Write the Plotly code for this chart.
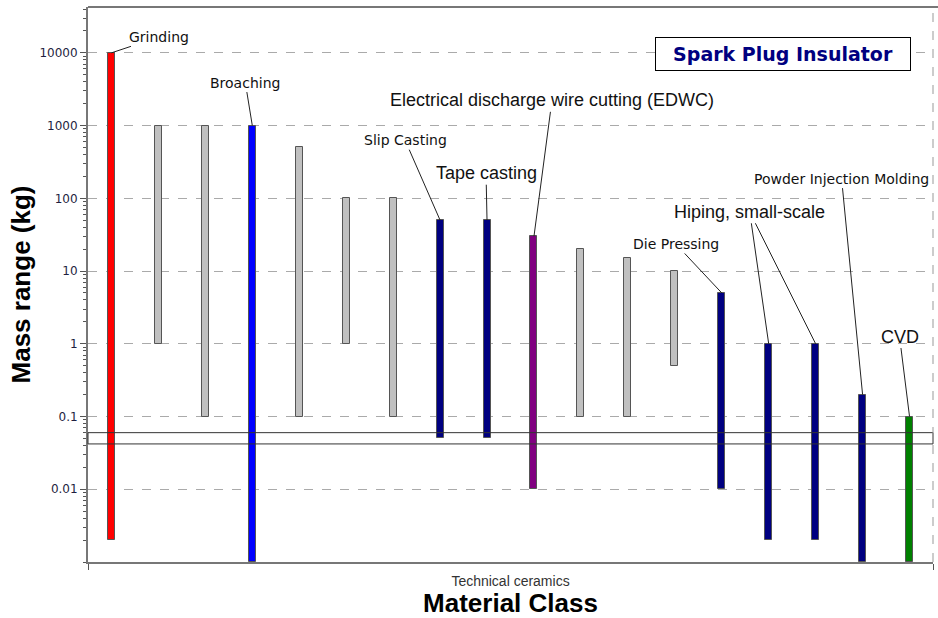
import math
import plotly.graph_objects as go

# ---- data ----
processes = ["Grinding", "Other 1", "Other 2", "Broaching", "Other 3", "Other 4", "Other 5",
             "Slip Casting", "Tape casting", "EDWC", "Other 6", "Other 7", "Other 8",
             "Die Pressing", "Hiping, small-scale A", "Hiping, small-scale B",
             "Powder Injection Molding", "CVD"]
mass_max = [10000, 1000, 1000, 1000, 500, 100, 100, 50, 50, 30, 20, 15, 10, 5, 1, 1, 0.2, 0.1]
mass_min = [0.002, 1, 0.1, 0.001, 0.1, 1, 0.1, 0.05, 0.05, 0.01, 0.1, 0.1, 0.5, 0.01, 0.002, 0.002, 0.001, 0.001]
bar_colors = ["#ff0000", "#c0c0c0", "#c0c0c0", "#0000ff", "#c0c0c0", "#c0c0c0", "#c0c0c0",
              "#000080", "#000080", "#800080", "#c0c0c0", "#c0c0c0", "#c0c0c0",
              "#000080", "#000080", "#000080", "#000080", "#008000"]
category_label = "Technical ceramics"
y_tick_vals = [0.01, 0.1, 1, 10, 100, 1000, 10000]
y_tick_text = ["0.01", "0.1", "1", "10", "100", "1000", "10000"]
target_band = [0.042, 0.06]

x_idx = list(range(len(processes)))
heights = [t - b for t, b in zip(mass_max, mass_min)]

fig = go.Figure()
fig.add_trace(go.Bar(
    x=x_idx, y=heights, base=mass_min, width=0.15,
    marker=dict(color=bar_colors, line=dict(color="#555555", width=1)),
    hoverinfo="skip", showlegend=False,
))

# target band (selection box)
fig.add_shape(type="rect", xref="paper", yref="y", x0=0, x1=1,
              y0=target_band[0], y1=target_band[1],
              line=dict(color="#333333", width=1), fillcolor="rgba(0,0,0,0)", layer="above")
# right dashed border & top border
fig.add_shape(type="line", xref="paper", yref="paper", x0=1, x1=1, y0=0, y1=1,
              line=dict(color="#999999", width=1, dash="dash"))
fig.add_shape(type="line", xref="paper", yref="paper", x0=0, x1=1.007, y0=1, y1=1,
              line=dict(color="#777777", width=2))

tahoma = "DejaVu Sans"
arial = "Liberation Sans, Arial"

def label(i, text, ax, ay, fam, size, color="#111111"):
    fig.add_annotation(x=x_idx[i], y=math.log10(mass_max[i]), text=text, showarrow=True,
                       arrowhead=0, arrowwidth=1, arrowcolor="#222222",
                       ax=ax, ay=ay, font=dict(family=fam, size=size, color=color))

label(0, "Grinding", 48, -16, tahoma, 14)
label(3, "Broaching", -7, -43, tahoma, 14)
label(7, "Slip Casting", -35, -80, tahoma, 14)
label(8, "Tape casting", -1, -47, arial, 18)
label(9, "Electrical discharge wire cutting (EDWC)", 18, -136, arial, 18)
label(13, "Die Pressing", -46, -49, tahoma, 14)
label(14, "Hiping, small-scale", -19, -132, arial, 18)
label(15, "Hiping, small-scale", -66, -132, arial, 18, color="rgba(0,0,0,0)")
label(16, "Powder Injection Molding", -21, -216, tahoma, 14)
label(17, "CVD", -10, -80, arial, 18)

fig.add_annotation(xref="paper", yref="paper", x=0.8225, y=0.915,
                   xanchor="center", yanchor="middle",
                   text="<b>Spark Plug Insulator</b>", showarrow=False,
                   font=dict(family="DejaVu Sans", size=19, color="#000080"),
                   bordercolor="#000000", borderwidth=1, borderpad=4,
                   bgcolor="#ffffff", width=246, height=24)

fig.update_layout(
    width=938, height=618,
    margin=dict(l=88, r=5, t=7, b=56),
    paper_bgcolor="#ffffff", plot_bgcolor="#ffffff",
    bargap=0,
    xaxis=dict(
        range=[-0.5, 17.5], showgrid=False, zeroline=False, automargin=False,
        showline=True, linecolor="#777777", linewidth=2,
        tickvals=[(len(processes) - 1) / 2], ticktext=[category_label], ticks="",
        ticklabelstandoff=5,
        tickfont=dict(family=arial, size=14, color="#333333"),
        minor=dict(tickvals=[-0.5, 17.5], ticks="outside", ticklen=6, tickcolor="#555555", showgrid=False),
        title=dict(text="<b>Material Class</b>", font=dict(family=arial, size=26, color="#000000"), standoff=5),
    ),
    yaxis=dict(
        type="log", range=[-3.0, 4.63], automargin=False,
        tickvals=y_tick_vals, ticktext=y_tick_text,
        ticks="outside", ticklen=6, tickcolor="#555555",
        tickfont=dict(family=tahoma, size=12, color="#1f1f3f"),
        showgrid=True, gridcolor="#aaaaaa", griddash="dash", gridwidth=1,
        showline=True, linecolor="#777777", linewidth=2, zeroline=False,
        minor=dict(ticks="outside", ticklen=3, tickcolor="#555555", dtick="D1", showgrid=False),
        title=dict(text="<b>Mass range (kg)</b>", font=dict(family=arial, size=26, color="#000000"), standoff=1),
    ),
)

fig.write_html("out.html", config={"displayModeBar": False},
               post_script="document.body.style.margin='0';")
